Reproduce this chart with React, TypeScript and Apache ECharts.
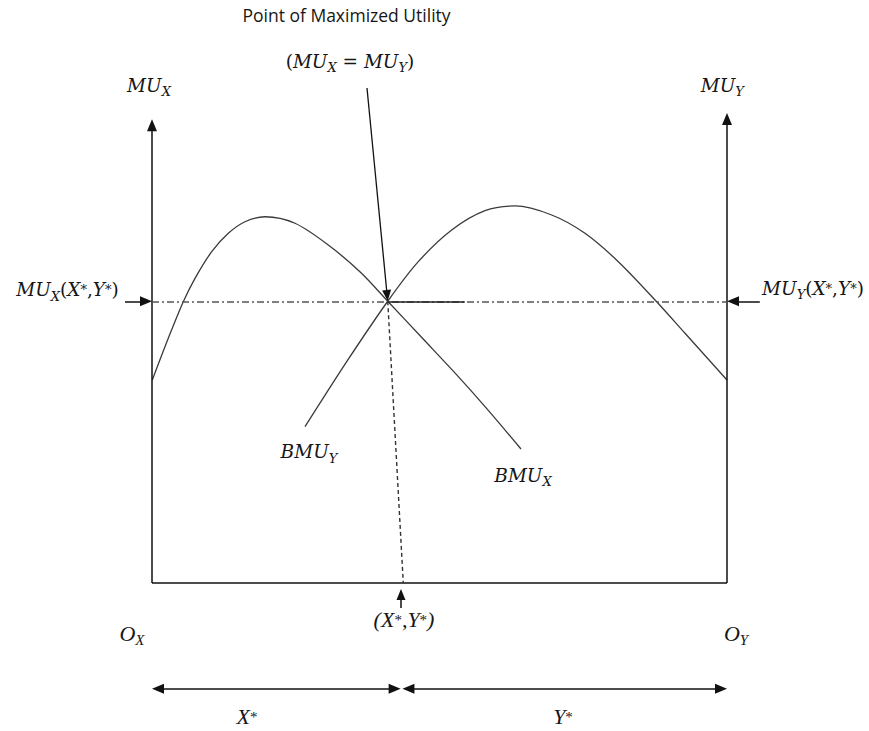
import React, { useEffect, useRef } from "react";
import * as echarts from "echarts";

// Quantities: box width 0..100 (O_X to O_Y); utility measured up from the base line.
const equilibriumX = 41; // X*
const equilibriumU = 49; // MU_X(X*,Y*) = MU_Y(X*,Y*)

const bmuXCurve: [number, number][] = [
  [0.05, 35.3], [2.83, 42.56], [5.44, 48.92], [7.48, 52.99], [10.38, 57.62], [13.27, 60.82], [16.17, 62.83],
  [19.65, 63.7], [24.87, 62.56], [30.66, 58.78], [36.3, 54.0], [41, 49], [47, 42.6], [53, 36.2], [58.6, 29.9], [64.17, 23.3],
];
const bmuYCurve: [number, number][] = [
  [26.61, 27.18], [33.86, 38.49], [41, 49], [46.31, 55.88], [52.12, 61.39], [57.91, 64.75],
  [63.13, 65.57], [69.51, 64.0], [75.3, 60.82], [81.1, 55.88], [87.77, 48.92], [92.7, 43.43], [100, 35.3],
];

const boxWidth = 100;
const leftAxisTop = 79.6;
const rightAxisTop = 80.7;
const solidSegmentEnd = 54.4;
const pointerStart: [number, number] = [37.39, 86.09];
const pointerEnd: [number, number] = [40.9, 50.0];
const dashedFootX = 43.7;
const footArrow: [number, number][] = [[43.3, -4.35], [43.3, -2.0]];
const sideArrowLeft: [number, number][] = [[-4.7, 49], [-1.04, 49]];
const sideArrowRight: [number, number][] = [[105.7, 49], [101.04, 49]];
const spanY = -18.4;
const spanLeft: [number, number] = [1.04, 42.2];
const spanRight: [number, number] = [44.6, 98.96];

const labelTexts = [
  "{t|Point of Maximized Utility}",
  "{n|(}{m|MU}{s|X}{n| = }{m|MU}{s|Y}{n|)}",
  "{m|MU}{s|X}",
  "{m|MU}{s|Y}",
  "{m|MU}{s|X}{n|(}{m|X}{u|*}{n|,}{m|Y}{u|*}{n|)}",
  "{m|MU}{s|Y}{n|(}{m|X}{u|*}{n|,}{m|Y}{u|*}{n|)}",
  "{m|BMU}{s|Y}",
  "{m|BMU}{s|X}",
  "{o|O}{cs|X}",
  "{c|(X}{cu|*}{c|,Y}{cu|*}{c|)}",
  "{o|O}{cs|Y}",
  "{c|X}{cu|*}",
  "{c|Y}{cu|*}",
];
const labelAnchors: [number, number][] = [
  [33.83, 98.78], [34.43, 90.78], [-0.52, 86.6], [99.2, 86.6], [-14.7, 50.96], [114.96, 51.3],
  [27.3, 22.83], [64.52, 18.78], [-3.48, -8.8], [43.83, -6.43], [101.57, -8.8], [16.52, -23.3], [71.48, -23.3],
];

// layout (pixels)
const W = 869, H = 731;
const PX_LEFT = 152, PX_RIGHT = 727, PX_BOTTOM = 583;
const UNIT = (PX_RIGHT - PX_LEFT) / boxWidth;

const TXT = "#161616";
const serif = "DejaVu Serif";
const rich = {
  t: { fontFamily: "Open Sans", fontSize: 17.5, color: TXT, lineHeight: 24 },
  m: { fontFamily: serif, fontStyle: "italic", fontSize: 18.5, lineHeight: 26, color: TXT, verticalAlign: "middle" },
  n: { fontFamily: serif, fontSize: 18.5, lineHeight: 26, color: TXT, verticalAlign: "middle" },
  s: { fontFamily: serif, fontStyle: "italic", fontSize: 13, lineHeight: 14, color: TXT, verticalAlign: "bottom" },
  u: { fontFamily: serif, fontSize: 13, lineHeight: 26, color: TXT, verticalAlign: "middle" },
  c: { fontFamily: "Liberation Serif", fontStyle: "italic", fontSize: 22, lineHeight: 22, color: TXT, verticalAlign: "middle" },
  o: { fontFamily: "Liberation Serif", fontStyle: "italic", fontSize: 22, lineHeight: 28, color: TXT, verticalAlign: "middle" },
  cs: { fontFamily: "Liberation Serif", fontStyle: "italic", fontSize: 15, lineHeight: 14, color: TXT, verticalAlign: "bottom" },
  cu: { fontFamily: "Liberation Serif", fontSize: 15, lineHeight: 22, color: TXT, verticalAlign: "middle" },
};

function arrowLine(a: [number, number], b: [number, number], startArrow: boolean, endArrow: boolean, style: any, size = [10, 12]) {
  return [
    { coord: a, symbol: startArrow ? "triangle" : "none", symbolSize: size, lineStyle: style },
    { coord: b, symbol: endArrow ? "triangle" : "none", symbolSize: size },
  ];
}

export default function App() {
  const ref = useRef<HTMLDivElement>(null);
  useEffect(() => {
    if (!ref.current) return;
    const chart = echarts.init(ref.current, undefined, { renderer: "svg" });
    const solid = { color: "#111", width: 1.5, type: "solid" };
    const curveStyle = { color: "#3a3a3a", width: 1.3 };
    chart.setOption({
      animation: false,
      backgroundColor: "#fff",
      grid: { left: 0, right: 0, top: 0, bottom: 0, containLabel: false },
      xAxis: { type: "value", min: -PX_LEFT / UNIT, max: (W - PX_LEFT) / UNIT, show: false },
      yAxis: { type: "value", min: -(H - PX_BOTTOM) / UNIT, max: PX_BOTTOM / UNIT, show: false },
      series: [
        {
          name: "BMU_X", type: "line", data: bmuXCurve, smooth: 0.3, symbol: "none",
          lineStyle: curveStyle, silent: true,
        },
        {
          name: "BMU_Y", type: "line", data: bmuYCurve, smooth: 0.3, symbol: "none",
          lineStyle: curveStyle, silent: true,
        },
        {
          name: "guides", type: "line", data: [], silent: true,
          markLine: {
            silent: true, animation: false, label: { show: false },
            symbol: ["none", "none"],
            data: [
              arrowLine([0, 0], [0, leftAxisTop], false, true, solid),
              arrowLine([boxWidth, 0], [boxWidth, rightAxisTop], false, true, solid),
              arrowLine([0, 0], [boxWidth, 0], false, false, solid),
              arrowLine([0, equilibriumU], [boxWidth, equilibriumU], false, false, { color: "#555", width: 1.5, type: [7, 3, 2, 3] }),
              arrowLine([equilibriumX, equilibriumU], [solidSegmentEnd, equilibriumU], false, false, { color: "#222", width: 1.5, type: "solid" }),
              arrowLine([equilibriumX, equilibriumU], [dashedFootX, 0], false, false, { color: "#333", width: 1.4, type: [4, 3] }),
              arrowLine(pointerStart, pointerEnd, false, true, { color: "#111", width: 1.3, type: "solid" }, [9, 11]),
              arrowLine(footArrow[0], footArrow[1], false, true, solid, [9, 11]),
              arrowLine(sideArrowLeft[0], sideArrowLeft[1], false, true, solid, [10, 12]),
              arrowLine(sideArrowRight[0], sideArrowRight[1], false, true, solid, [10, 12]),
              arrowLine([spanLeft[0], spanY], [spanLeft[1], spanY], true, true, solid, [10, 12]),
              arrowLine([spanRight[0], spanY], [spanRight[1], spanY], true, true, solid, [10, 12]),
            ],
          },
        },
        {
          name: "labels", type: "scatter", symbolSize: 1, silent: true,
          itemStyle: { color: "rgba(0,0,0,0)" },
          data: labelAnchors.map((p, i) => ({
            value: p,
            label: {
              show: true, position: "inside", formatter: labelTexts[i], rich, opacity: 1,
              align: "center", verticalAlign: "middle",
            },
          })),
          labelLayout: { hideOverlap: false },
        },
      ],
    });
    return () => chart.dispose();
  }, []);
  return <div ref={ref} style={{ position: "fixed", left: 0, top: 0, width: W, height: H, background: "#fff" }} />;
}
